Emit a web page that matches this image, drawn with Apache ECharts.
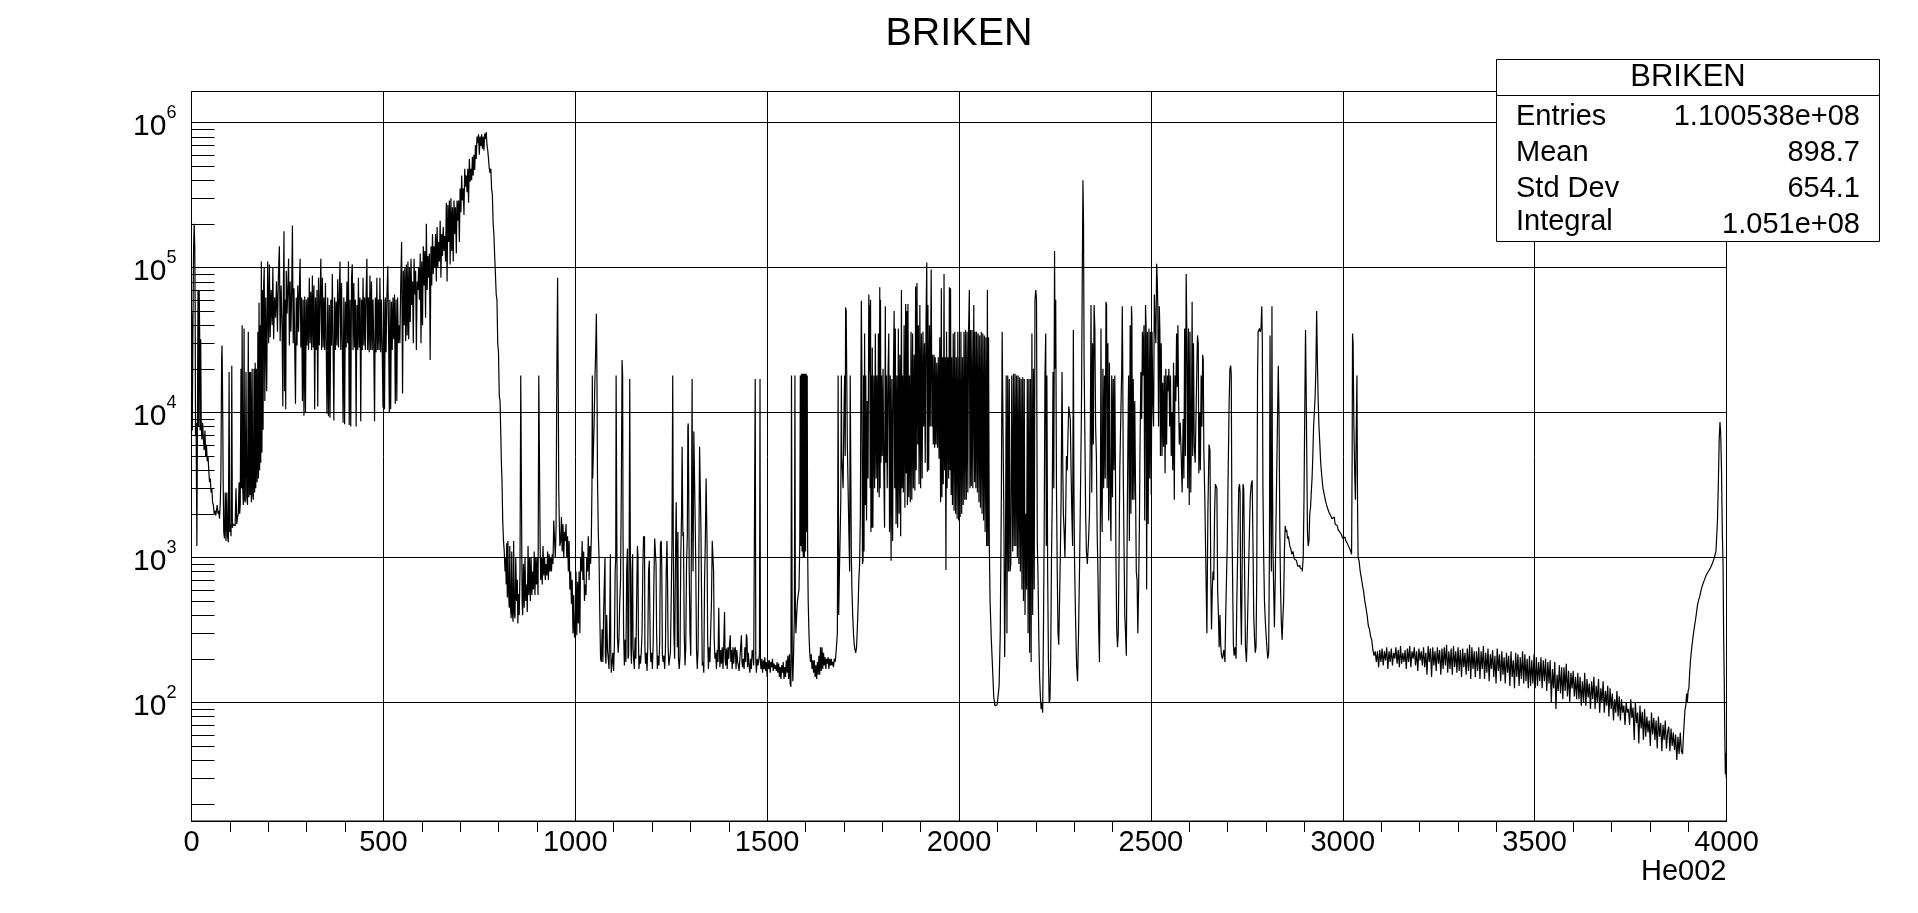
<!DOCTYPE html>
<html><head><meta charset="utf-8">
<script src="https://cdn.jsdelivr.net/npm/echarts@6/dist/echarts.min.js"></script>
<style>html,body{margin:0;padding:0;background:#fff}#c{width:1918px;height:913px}</style>
</head><body><div id="c"></div>
<script>
// Channel, count pairs, one list per stretch of the spectrum.
const rampIn = [0,7000,1,49000,3,7500,5,49000,6,140000,8,200000,9,140000,10,55000,11,7000,13,8500,15,1200,16,9000,18,70000,19,8000,21,70000,22,32000,23,7500,25,32000,26,8000,28,6500,30,8500,32,6500,34,5500,36,7500,38,5000,40,6000,42,4600,44,5000,46,4000,48,3300,50,3500,52,2800,54,3000,56,2400,58,2300,60,2000,62,2100,64,1950,66,2100,68,2300,70,2000,72,2100,74,1850,76,2400,77,3500,78,8800,79,23000,80,29000,81,18000,82,9000,83,3500,85,1500,87,1350,89,2800,91,1300,93,2800,95,1400,97,1270,99,19000,100,1500,102,1700,104,1400,106,21000,107,1600,109,1700,111,1750,113,1650,115,1800,117,3000,119,1700,121,1900,123,2000,125,3300,126,2000,128,2300,130,20000,131,3000,133,40000,134,3000,136,2300,138,38000,139,2500,141,2400,143,19000,145,2600,147,2300,149,36000,150,2600,152,19000,153,2700,155,19000,157,2400,159,20000,160,2700,162,2500,164,20000,165,2800,167,22000,168,3000,170,20000,172,3300,174,36000,175,3500,177,57000,178,4000,180,40000,181,4500,183,110000,184,5300,186,70000,187,7600,189,75000];
const plateau = [190,100000,192,12000,195,62000,197,14000,200,110000,202,30000,204,105000,206,33000,209,70000,211,40000,213,100000,215,32000,218,62000,220,45000,223,80000,225,36000,228,90000,230,140000,232,31000,235,75000,237,38000,239,11000,240,75000,242,178000,243,14000,245,60000,246,10500,248,95000,250,48000,252,70000,254,115000,256,29000,258,80000,260,36000,262,68000,264,195000,266,30000,268,72000,270,28000,272,11500,274,62000,276,29000,278,75000,280,36000,282,70000,284,115000,286,28000,288,62000,290,12000,292,60000,294,9500,296,63000,298,10000,300,60000,302,29000,304,62000,306,27000,308,85000,310,30000,312,68000,314,27000,316,88000,318,28000,320,75000,322,10500,324,62000,326,27000,328,70000,330,11000,332,85000,334,29000,336,60000,338,115000,340,27000,342,85000,344,28000,346,62000,348,27000,350,78000,352,30000,354,9800,356,62000,358,9400,360,55000,362,9200,364,60000,366,29000,368,90000,370,28000,372,8800,374,62000,376,27000,378,58000,380,29000,382,83000,384,28000,386,63000,388,110000,390,27000,392,78000,394,29000,396,8500,398,62000,400,8300,402,58000,404,28000,406,80000,408,30000,410,110000,412,8200,414,60000,416,8000,418,85000,420,105000,422,27000,424,78000,426,28000,428,60000,430,8000,432,55000,434,27000,436,85000,438,28000,440,62000,442,8700,444,60000,446,27000,448,85000,450,29000,452,62000,454,27000,456,65000,458,115000,460,27000,462,62000,464,26000,466,88000,468,27000,470,80000,472,27000,474,60000,476,28000,478,8700,480,62000,482,26000,484,85000,486,27000,488,60000,490,27000,492,85000,494,26000,496,60000,498,27000,500,10800,502,60000,504,10500,506,62000,508,26000,510,60000,513,102000,515,27000,516,10000,518,60000,520,10500,522,58000,524,27000,526,62000,528,32000,530,65000,532,11500,534,60000,536,12000,538,62000,540,30000,542,40000,544,30000,546,70000,549,150000,551,13500,553,95000];
const risingEdge = [555,40000,557,100000,559,31000,561,105000,563,34000,565,110000,567,32000,569,100000,571,42000,573,115000,575,55000,577,80000,579,30000,581,115000,583,65000,585,95000,587,27000,589,80000,591,70000,593,100000,595,60000,597,125000,599,30000,601,110000,603,40000,605,140000,607,75000,609,130000,611,45000,613,200000,615,70000,617,120000,619,85000,621,125000,623,23000,625,140000,627,75000,629,170000,631,90000,633,140000,635,100000,637,170000,639,80000,641,190000,643,100000,645,150000,647,110000,649,210000,651,85000,653,170000,655,120000,657,190000,659,130000,661,165000,663,110000,665,280000,667,80000,669,270000,671,150000,673,290000,675,105000,677,300000,679,130000,681,260000,683,110000,685,290000,687,170000,689,260000,691,125000,693,290000,695,210000,697,290000,699,150000,701,350000,703,240000,705,430000,707,290000,709,350000,711,230000,713,480000,715,360000,717,430000,719,330000,721,480000,723,280000,725,560000,727,390000,729,480000,731,400000,733,580000,735,430000,737,600000,739,470000,741,700000,743,560000,745,800000,747,720000,749,830000,751,600000,753,800000,755,690000,757,830000,759,660000,761,800000,763,640000,765,840000,767,770000,769,860000,771,700000,773,640000,775,560000,777,480000,779,450000,781,480000,783,350000,785,320000,787,200000,789,170000,791,120000,793,90000,795,65000,797,60000,799,30000,801,26000,803,13000,805,12000,807,7000,808,4500,810,3500,812,1800,814,1300,816,1100];
const firstValley = [818,800,819,1000,821,650,822,1250,824,530,825,1300,827,600,829,450,830,1200,832,470,834,380,835,1100,837,420,839,360,840,1300,842,420,844,380,846,1000,848,500,850,700,851,350,853,560,855,400,857,800,859,18000,861,18000,862,500,864,400,866,900,868,450,870,1000,872,500,874,650,876,420,878,1200,880,550,882,1000,884,500,886,1000,888,550,890,800,892,600,894,1100,896,550,898,1000,900,650,902,1000,904,550,906,18000,908,18000,909,1200,911,700,913,1000,915,650,917,1200,919,750,921,1000,923,700,925,900,927,750,929,1100,931,700,933,1050,935,800,937,1000,939,800,941,1050,943,900,945,1800,947,1800,949,1000,951,1600,953,18000,955,85000,956,18000,958,3000,959,1700,961,1200,963,1300,965,1900,967,1100,969,1700,971,1000,973,1500,975,1300,977,1700,979,1000,981,1400,983,800,985,1300,987,600,989,800,991,480,993,700,995,300,997,550,999,280,1001,290,1003,800,1005,290,1007,680,1009,350,1011,800,1013,300,1015,1000,1017,800,1019,1300,1021,700,1023,1100,1025,500,1027,650,1029,550,1031,1000,1033,800,1035,1400,1037,700,1039,1200,1041,900];
const comb = [1043,1400,1044,3000,1045,18000,1046,3500,1048,5000,1050,8000,1052,16000,1054,25000,1056,48000,1057,19000,1059,3500,1061,1500,1063,1000,1065,400,1067,200,1069,190,1071,320,1073,190,1075,420,1077,700,1078,1000,1079,210,1081,185,1083,400,1085,230,1087,200,1089,170,1091,400,1092,1050,1093,230,1095,160,1097,190,1099,220,1101,165,1103,250,1105,800,1106,1000,1107,18000,1108,18000,1109,1100,1111,280,1113,220,1115,280,1117,500,1119,700,1121,2800,1123,23000,1124,18000,1125,1500,1127,300,1129,180,1131,270,1133,190,1135,800,1137,1150,1138,200,1140,210,1141,1100,1143,17000,1144,1200,1146,240,1147,185,1149,800,1150,1050,1151,240,1153,200,1155,170,1157,280,1159,200,1161,500,1163,1200,1164,1000,1165,300,1167,170,1169,210,1171,185,1173,220,1175,300,1177,800,1179,1400,1180,1350,1181,1400,1182,240,1184,185,1186,220,1188,165,1190,240,1192,800,1194,950,1195,950,1196,240,1198,190,1200,220,1202,170,1204,250,1206,700,1208,1350,1210,1350,1211,900,1213,300,1215,170,1217,210,1219,180,1221,260,1223,1250,1225,1300,1226,850,1228,210,1230,190,1232,210,1234,170,1236,230,1238,800,1240,1300,1241,700,1243,240,1245,180,1247,200,1249,220,1251,500,1253,1250,1255,18000,1256,1300,1258,300,1260,200,1262,900,1264,2400,1265,1000,1267,240,1268,1500,1270,200,1272,170,1274,210,1276,1000,1278,2000,1279,5800,1280,5800,1281,1400,1283,1500,1285,300,1287,180,1289,240,1291,900,1293,1400,1294,8000,1295,8400,1296,3500,1298,800,1300,300,1302,210,1304,2000,1305,17000,1306,2200,1308,800,1310,7400,1312,7400,1313,1800,1315,900,1317,230,1319,170,1321,230,1323,900,1325,5800,1327,5800,1328,1600,1330,600,1332,180,1334,190,1336,160,1338,700,1340,1300,1342,3500,1343,3500,1344,1200,1346,280,1348,170,1350,240,1352,190,1354,320,1356,500,1358,1300,1360,1300,1361,800,1363,280,1365,200];
const flatRun = [1367,220,1369,170,1371,230,1373,190,1375,450,1376,240,1378,175,1380,230,1382,185,1384,240,1386,170,1388,250,1390,420,1391,200,1393,180,1395,235,1397,170,1399,240,1401,200,1403,250,1405,290,1406,190,1408,230,1410,170,1412,240,1414,185,1416,230,1418,240,1420,170,1422,230,1424,190,1426,180,1428,165,1430,200,1432,240,1434,290,1435,190,1437,175,1439,200,1441,170,1443,240,1445,190,1447,295,1448,280,1450,175,1452,220,1454,180,1456,160,1458,200,1460,170,1462,230,1464,220,1466,180,1468,175,1470,17000,1471,200,1473,160,1475,200,1477,180,1479,195,1481,215,1482,17000,1483,190,1485,170,1487,200,1489,160,1491,195,1493,170,1495,205,1497,165,1499,190,1501,150,1503,195,1505,170,1507,195,1509,160,1511,190,1513,175,1515,200,1517,165,1519,185,1521,170,1523,180,1525,165,1527,190,1529,160,1531,185,1533,150,1535,175,1537,145,1539,180,1541,160,1543,190,1545,145,1547,175,1549,150,1551,195,1553,160,1555,210,1557,145,1559,215,1561,135,1563,128,1564,18000,1565,18000,1566,190,1568,140,1570,220,1572,400,1573,18000,1574,500,1576,300,1578,400,1580,500,1582,550,1584,600,1586,1200,1587,18000,1589,1200,1590,18500,1592,1100,1593,18500,1595,1000,1596,18500,1598,1000,1599,18500,1601,1100,1602,18500,1604,1500,1605,18000,1606,1200,1608,500,1610,300,1612,220,1614,190,1616,215,1618,170,1620,195,1622,160,1624,195,1626,150,1628,180,1630,145,1632,190,1634,155,1636,210,1638,155,1640,240,1642,165,1644,240,1646,170,1648,220,1650,180,1652,205,1654,170,1656,200,1658,185,1660,205,1662,170,1664,200,1666,180,1668,200,1670,180,1672,190,1674,175,1676,200,1678,190,1680,210,1682,250,1684,300,1686,18000,1687,400,1689,700,1691,1300,1693,2500,1694,18000,1695,5000,1697,4000,1699,3000,1701,9000,1703,18000];
const denseBlock = [1704,5000,1705,53000,1707,50000,1708,18000,1710,6000,1712,3000,1714,1500,1716,800,1717,18000,1719,18000,1720,1000,1722,600,1724,400,1726,300,1728,250,1730,230,1732,220,1734,240,1736,320,1738,450,1740,700,1742,900,1744,2000,1745,18000,1746,59000,1748,19000,1749,900,1751,950,1752,18000,1753,1100,1755,35000,1756,2300,1758,18000,1760,1800,1762,12000,1764,3500,1766,65000,1767,19000,1768,55000,1769,3000,1770,60000,1771,1500,1772,18000,1773,1600,1775,28000,1776,1600,1777,1650,1779,18000,1781,3000,1783,35000,1785,3500,1787,18000,1789,2800,1791,35000,1793,2600,1794,73000,1795,3000,1796,60000,1797,4500,1799,18000,1801,5000,1803,20000,1805,4000,1807,1600,1809,54000,1810,4500,1812,18000,1814,3000,1816,18000,1818,35000,1820,1500,1822,18000,1824,950,1826,17000,1828,1300,1830,18000,1832,50000,1833,3000,1835,38000,1837,1700,1839,18000,1841,1600,1843,38000,1845,2000,1847,25000,1849,1400,1851,70000,1852,3000,1854,18000,1856,2800,1858,40000,1860,2200,1862,56000,1863,3800,1865,50000,1866,2300,1868,56000,1870,2600,1872,18000,1874,2400,1876,36000,1878,2500,1880,35000,1882,3000,1884,25000,1886,2900,1888,74000,1889,4000,1892,78000,1893,6000,1895,40000,1897,3200,1899,55000,1901,3000,1903,35000,1905,3500,1907,36000,1909,8000,1911,30000,1913,4500,1915,40000,1917,108000,1918,3900,1920,55000,1922,4000,1924,40000,1926,8000,1929,97000,1930,8000,1932,25000,1934,6000,1936,25000,1937,5700,1939,24000,1941,6000,1943,22000,1945,5700,1947,24000,1949,4800,1951,33000,1953,2400,1955,72000,1956,2600,1958,24000,1960,3200,1962,90000,1963,4000,1965,24000,1967,820,1968,36000,1970,3000,1972,24000,1974,3500,1976,73000,1977,4000,1979,72000,1980,2700,1982,24000,1984,2300,1986,35000,1988,2100,1990,36000,1992,2000,1994,24000,1996,1850,1998,36000,2000,1800,2002,24000,2004,1900,2006,36000,2008,2000,2010,24000,2012,2300,2014,36000,2016,2500,2018,37000,2020,2500,2022,36000,2024,2800,2026,37000,2028,70000,2029,3000,2031,37000,2033,3100,2035,37000,2037,3000,2040,55000,2041,3300,2043,36000,2045,3000,2047,36000,2049,2800,2051,35000,2053,2400,2055,34000,2057,2200,2059,36000,2061,2000,2063,35000,2065,1800,2067,34000,2069,1500,2071,33000,2073,1200,2075,70000,2076,1200,2078,33000,2080,1200];
const sparsePeaks = [2082,500,2086,280,2089,170,2092,110,2095,95,2099,96,2103,105,2106,130,2109,300,2112,3000,2113,36000,2114,17000,2116,17000,2118,1800,2120,206,2122,800,2124,18000,2126,300,2128,18000,2130,800,2132,17000,2134,800,2136,900,2139,18000,2141,1100,2143,18500,2145,1200,2147,18500,2149,1200,2151,18000,2153,1000,2155,18000,2157,900,2159,17500,2161,800,2163,17000,2165,600,2167,17500,2169,500,2171,17000,2173,400,2175,2000,2177,600,2179,17000,2181,300,2183,17000,2185,220,2187,17000,2189,190,2191,35000,2193,400,2195,20000,2197,600,2199,60000,2201,70000,2203,60000,2205,1300,2207,700,2209,280,2211,150,2213,110,2215,90,2217,100,2219,85,2221,300,2223,1500,2225,18000,2227,35000,2228,1200,2230,18000,2232,800,2234,200,2236,100,2238,105,2240,200,2242,1000,2244,2500,2246,19000,2248,3000,2250,130000,2251,20000,2253,60000,2255,3000,2257,800,2259,300,2261,250,2263,500,2265,1000,2267,2500,2270,19000,2271,4000,2273,2000,2275,1500,2277,1000,2279,2000,2281,5000,2283,4000,2285,7000,2287,11000,2289,11000,2291,9000,2293,4000,2295,2000,2297,1200,2299,37000,2300,3000,2302,1000,2305,400,2308,180,2310,140,2313,300,2316,1000,2318,3500,2320,10000,2322,70000,2324,400000,2325,200000,2327,22000,2329,7000,2331,2000,2333,1100,2336,900,2339,1300,2341,2000,2343,6000,2345,55000,2347,2800,2349,30000,2351,6000,2353,55000,2355,38000,2357,8000,2359,5000,2361,1500,2363,800,2365,320,2367,190,2369,1000,2371,38000,2372,2500,2374,1500,2376,20000,2378,3000,2380,18000,2382,3500,2384,58000,2385,55000,2387,3000,2389,30000,2391,1800,2393,22000,2395,2500,2397,1300,2399,18000,2401,2600,2403,17000,2405,4000,2407,18000,2408,5000,2410,1000,2412,320,2414,240,2416,300,2418,1000,2420,4000,2423,9000,2425,20000,2426,54000,2427,25000,2429,4000,2431,1200,2433,400,2435,300,2437,210,2439,1200,2441,6000,2443,18000,2445,1300,2447,40000,2449,2000,2450,54000,2451,45000,2453,2500,2455,17000,2457,2500,2459,12000,2461,3000,2463,800,2465,700,2467,300,2469,600,2471,1600,2473,7000,2475,19000,2477,9000,2479,36000,2481,18000,2483,40000,2485,1800,2487,55000,2488,40000,2490,600,2492,36000,2494,1700,2496,38000,2498,3500,2500,36000,2502,2700,2504,36000,2506,12000,2508,8000,2510,65000,2512,40000,2514,30000,2516,106000,2517,85000,2519,55000,2521,8000,2523,54000,2524,36000,2526,5000,2528,30000,2530,5000,2532,16000,2534,5800,2536,18000,2538,3800,2540,20000,2542,6000,2544,18000,2546,14000,2548,20000,2550,8000,2552,18000,2554,5000,2556,10000,2558,4000,2560,22000,2562,2500,2564,18000,2566,12000,2568,35000,2570,15000,2571,40000,2573,14000,2575,6000,2578,8500,2580,5000,2583,2800,2585,9000,2587,3500,2589,38000,2591,5000,2593,90000,2595,30000,2597,3000,2599,38000,2601,2300,2603,36000,2605,2800,2607,10000,2608,58000,2610,5000,2612,30000,2614,6000,2617,4500,2620,13000,2623,34000,2624,30000,2626,3800,2628,10000,2630,4000,2632,18000,2634,8000,2636,25000,2637,23000,2639,5500,2642,2600,2645,800,2647,300];
const lastPeaks = [2650,2000,2653,6000,2655,5500,2657,800,2659,320,2661,600,2663,800,2665,700,2667,2000,2669,3200,2671,3200,2673,3000,2675,600,2677,400,2679,240,2681,400,2683,250,2685,210,2688,200,2692,230,2694,190,2696,400,2698,700,2700,1200,2703,4000,2705,12000,2707,20000,2709,21000,2710,18000,2712,2000,2714,700,2716,250,2718,210,2721,240,2723,200,2725,500,2728,1200,2730,3000,2732,3200,2733,2800,2735,500,2737,250,2739,900,2741,3200,2743,3000,2745,900,2748,240,2750,190,2752,280,2754,500,2756,900,2758,1600,2760,2600,2763,3200,2765,3400,2767,1300,2769,400,2771,280,2773,220,2775,240,2777,800,2779,18000,2780,36000,2782,37000,2784,38000,2786,36000,2788,38000,2790,54000,2791,30000,2793,3000,2795,1000,2797,500,2800,350,2803,260,2806,200,2808,220,2810,1200,2811,34000,2813,3000,2815,800,2816,54000,2817,6000,2819,1200,2821,600,2823,330,2825,700,2827,1700,2829,4000,2831,9000,2833,21000,2835,9000,2837,1500,2839,600,2841,350,2843,270,2845,380,2847,500,2849,1100,2851,1650,2853,1500,2855,1550,2857,1350,2859,1400,2861,1300,2863,1200,2866,1150,2869,1050,2872,1100,2875,980,2878,950,2881,960,2884,870,2887,880,2890,850,2893,830,2896,800,2898,1000,2900,2500,2902,10000,2904,37000,2905,16000,2907,6000,2909,1500,2911,1200,2913,1300,2915,2000,2917,2200,2919,2800,2921,3500,2923,5000,2925,8000,2927,10000,2929,13000,2931,20000,2933,50000,2935,22000,2937,12000,2939,8000,2941,6300,2944,4500,2947,3600,2950,3000,2954,2700,2958,2400,2962,2200,2966,2050,2970,1950,2974,1850,2978,1900,2982,1700,2986,1650,2990,1550,2994,1500,2998,1450,3002,1350,3006,1380,3010,1300,3014,1250,3018,1180,3022,1120,3024,1050,3025,5000,3026,35000,3028,30000,3030,8000,3032,4000,3034,2500,3036,7000,3038,18000,3039,2500,3041,1000,3044,950,3047,800,3050,720,3053,640,3056,580,3059,500,3062,450,3065,400,3068,340,3071,320,3074,285,3077,270,3080,230,3083,210,3086,225];
const longTail = [3089,190,3092,225,3095,175,3098,230,3101,190,3104,235,3107,180,3110,225,3113,195,3116,240,3119,170,3122,225,3125,190,3128,235,3131,180,3134,220,3137,200,3140,240,3143,185,3146,230,3149,175,3152,245,3155,185,3158,220,3161,190,3164,230,3167,170,3170,235,3173,190,3176,245,3179,175,3182,225,3185,200,3188,240,3191,180,3194,225,3197,165,3200,235,3203,195,3206,225,3209,180,3212,240,3215,175,3218,220,3221,155,3224,245,3227,190,3230,235,3233,150,3236,240,3239,180,3242,225,3245,165,3248,240,3251,185,3254,230,3257,155,3260,235,3263,170,3266,240,3269,180,3272,250,3275,160,3278,225,3281,170,3284,235,3287,155,3290,245,3293,175,3296,225,3299,160,3302,240,3305,165,3308,230,3311,150,3314,235,3317,175,3320,220,3323,155,3326,235,3329,165,3332,250,3335,145,3338,240,3341,170,3344,225,3347,150,3350,225,3353,165,3356,240,3359,145,3362,225,3365,170,3368,245,3371,145,3374,220,3377,160,3380,235,3383,140,3386,215,3389,170,3392,230,3395,150,3398,210,3401,135,3404,235,3407,165,3410,215,3413,140,3416,225,3419,155,3422,205,3425,135,3428,220,3431,160,3434,210,3437,130,3440,225,3443,150,3446,195,3449,125,3452,220,3455,150,3458,215,3461,130,3464,205,3467,145,3470,225,3473,135,3476,215,3479,140,3482,200,3485,125,3488,210,3491,130,3494,195,3497,135,3500,215,3503,125,3506,205,3509,130,3512,190,3515,140,3518,205,3521,125,3524,195,3527,140,3530,200,3533,120,3536,190,3539,135,3542,195,3545,100,3548,170,3551,125,3554,190,3557,90,3560,155,3563,120,3566,180,3569,115,3572,175,3575,105,3578,175,3581,120,3584,185,3587,110,3590,165,3593,100,3596,160,3599,125,3602,165,3605,110,3608,150,3611,105,3614,160,3617,105,3620,150,3623,95,3626,140,3629,100,3632,160,3635,95,3638,145,3641,108,3644,135,3647,90,3650,140,3653,105,3656,150,3659,90,3662,130,3665,100,3668,145,3671,85,3674,125,3677,100,3680,140,3683,85,3686,120,3689,95,3692,130,3695,80,3698,125,3701,90,3704,115,3707,75,3710,105,3713,85,3716,120,3719,80,3722,110,3725,75,3728,105,3731,85,3734,95,3737,70,3740,100,3743,85,3746,90,3749,70,3752,105,3755,78,3758,92,3761,55,3764,100,3767,72,3770,85,3773,52,3776,95,3779,66,3782,86,3785,55,3788,90,3791,58,3794,80,3797,62,3800,75,3803,50,3806,85,3809,60,3812,78,3815,55,3818,75,3821,48,3824,80,3827,58,3830,72,3833,46,3836,70,3839,55,3842,75,3845,48,3848,62,3851,68,3854,46,3857,66,3860,50,3863,62,3866,47,3869,60,3872,40,3875,58,3878,44,3881,62,3884,46,3887,44,3889,60,3891,75,3893,90,3895,95,3897,115,3899,100,3901,120,3903,125,3905,160,3908,200,3911,240,3914,280,3917,320,3920,360,3923,410,3926,470,3929,510,3932,540,3936,600,3940,650,3945,700,3950,760,3955,800,3960,840,3965,900,3970,980,3975,1100,3978,1800,3980,3500,3982,6500,3984,8600,3986,7000,3988,4000,3990,1500,3992,900,3993,300,3995,150,3996,60,3998,32,3999,45,4000,30];

const xAxisTicks = [0,500,1000,1500,2000,2500,3000,3500,4000];
const yDecades = [100,1000,10000,100000,1000000];
const yMinorTicks = [20,30,40,50,60,70,80,90,200,300,400,500,600,700,800,900,2000,3000,4000,5000,6000,7000,8000,9000,20000,30000,40000,50000,60000,70000,80000,90000,200000,300000,400000,500000,600000,700000,800000,900000];
const statNames = ['Entries','Mean','Std Dev','Integral'];
const statValues = ['1.100538e+08','898.7','654.1','1.051e+08'];
const histTitle = 'BRIKEN';
const xTitle = 'He002';

const F = '"Liberation Sans", Arial, sans-serif';
const flat = [].concat(rampIn, plateau, risingEdge, firstValley, comb, flatRun, denseBlock, sparsePeaks, lastPeaks, longTail);
const points = [];
for (let i = 0; i < flat.length; i += 2) points.push([flat[i], flat[i + 1]]);

const statY = [117, 153, 189, 222];
const graphics = [
  {type:'rect', z:50, shape:{x:1496.5,y:59.5,width:383,height:182}, style:{fill:'#fff',stroke:'#000',lineWidth:1}},
  {type:'line', z:51, shape:{x1:1496.5,y1:95.5,x2:1879.5,y2:95.5}, style:{stroke:'#000',lineWidth:1}},
  {type:'text', z:51, x:1688, y:77, style:{text:histTitle,font:'31px '+F,fill:'#000',textAlign:'center',textVerticalAlign:'middle'}}
];
statNames.forEach((n,i)=>{
  graphics.push({type:'text', z:51, x:1516, y:statY[i], style:{text:n,font:'29px '+F,fill:'#000',textAlign:'left',textVerticalAlign:'middle'}});
  graphics.push({type:'text', z:51, x:1860, y:statY[i]+(i===3?3:0), style:{text:statValues[i],font:'29px '+F,fill:'#000',textAlign:'right',textVerticalAlign:'middle'}});
});

const chart = echarts.init(document.getElementById('c'), null, {renderer:'canvas'});
chart.setOption({
  animation:false,
  backgroundColor:'#fff',
  title:{text:histTitle,left:'center',top:9,textStyle:{fontFamily:F,fontSize:39.5,fontWeight:'normal',color:'#000'}},
  grid:{left:191.5,right:191.5,top:91.5,bottom:92,show:true,borderColor:'#000',borderWidth:1,backgroundColor:'#fff'},
  xAxis:{type:'value',min:0,max:4000,interval:500,name:xTitle,nameLocation:'end',nameGap:0,
    nameTextStyle:{fontFamily:F,fontSize:29,color:'#000',align:'right',verticalAlign:'top',padding:[36,0,0,0]},
    axisLine:{show:true,onZero:false,lineStyle:{color:'#000'}},
    axisTick:{show:false},
    minorTick:{show:true,splitNumber:5,length:11,lineStyle:{color:'#000',width:1}},
    minorTickInside:true,
    splitLine:{show:true,lineStyle:{color:'#000',width:1}},
    axisLabel:{fontFamily:F,fontSize:29,color:'#000',margin:7,hideOverlap:false,showMinLabel:true,showMaxLabel:true,customValues:xAxisTicks,formatter:v=>String(v)}
  },
  yAxis:{type:'log',logBase:10,min:15.2,max:1636000,
    axisLine:{show:true,lineStyle:{color:'#000'}},
    axisTick:{show:false,customValues:yDecades},
    splitLine:{show:true,lineStyle:{color:'#000',width:1}},
    axisLabel:{customValues:yDecades,margin:15,
      formatter:v=>'{b|10}{s|'+Math.round(Math.log10(v))+'}',
      rich:{b:{fontFamily:F,fontSize:30,color:'#000',padding:[9,0,0,0]},s:{fontFamily:F,fontSize:18,color:'#000',padding:[0,0,18,0]}}}
  },
  series:[
    {type:'custom',coordinateSystem:'cartesian2d',silent:true,z:3,clip:true,
     data:yMinorTicks.map(v=>[0,v]),encode:{x:0,y:1},
     renderItem:(p,api)=>{const c=api.coord([0,api.value(1)]);const y=Math.round(c[1])+0.5;
       return {type:'line',shape:{x1:c[0],y1:y,x2:c[0]+23,y2:y},style:{stroke:'#000',lineWidth:1}};}},
    {type:'line',name:'He002',data:points,step:'middle',showSymbol:false,symbol:'none',sampling:false,large:false,z:4,
     lineStyle:{color:'#000',width:1.2},silent:true,clip:true}
  ],
  graphic:graphics
});
</script></body></html>
